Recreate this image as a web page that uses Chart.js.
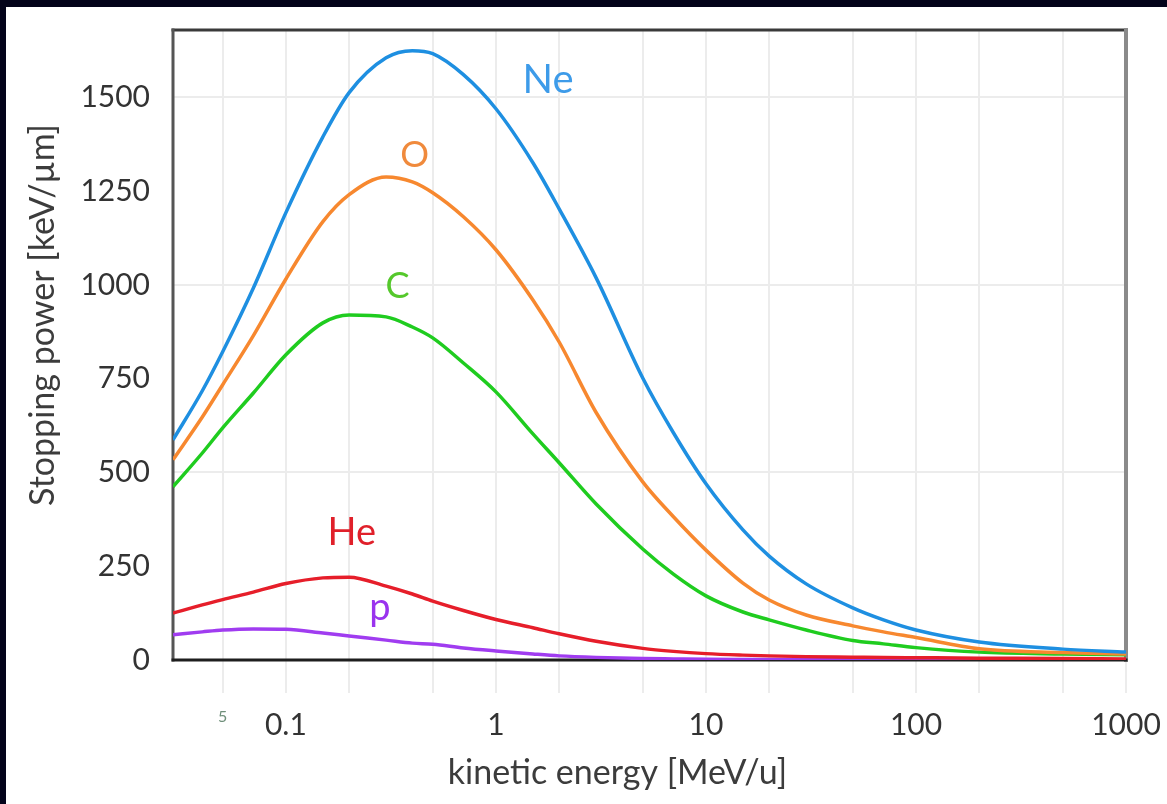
<!DOCTYPE html>
<html>
<head>
<meta charset="utf-8">
<script src="https://cdn.jsdelivr.net/npm/chart.js@4.4.0/dist/chart.umd.min.js"></script>
<style>
  html, body { margin: 0; padding: 0; background: #03031a; }
  #wrap { position: absolute; left: 6px; top: 7px; width: 1161px; height: 797px; background: #fff; }
  canvas { display: block; }
</style>
</head>
<body>
<div id="wrap"><canvas id="chart" width="1161" height="797"></canvas></div>
<script>
"use strict";

// ---- data (kinetic energy in MeV/u, stopping power in keV/µm) ----
const energy = [0.029, 0.04, 0.05, 0.07, 0.1, 0.15, 0.2, 0.3, 0.4, 0.5, 0.7, 1, 1.5, 2, 3, 5, 7, 10, 15, 20, 30, 50, 70, 100, 200, 500, 1000];
const neon   = [587, 718, 822, 992, 1193, 1395, 1513, 1606, 1625, 1617, 1561, 1470, 1326, 1203, 1019, 752, 606, 470, 347, 277, 203, 139, 107, 80, 48, 29, 21];
const oxygen = [534, 648, 734, 865, 1016, 1169, 1241, 1288, 1275, 1246, 1182, 1094, 960, 848, 660, 475, 382, 293, 205, 160, 120, 91, 75, 60, 30, 20, 16];
const carbon = [462, 552, 619, 712, 814, 899, 920, 915, 888, 859, 792, 715, 603, 526, 416, 296, 229, 171, 128, 107, 80, 52, 43, 33, 21, 16, 14];
const helium = [125, 147, 161, 181, 204, 219, 221, 197, 176, 157, 132, 108, 86, 70, 50, 31, 23, 17, 13, 11, 9, 7.5, 6.5, 6, 5, 4, 3];
const proton = [67, 75, 80, 83, 82, 72, 64, 53, 45, 42, 32, 24, 16, 11, 7, 4, 3, 2, 1.5, 1.2, 1, 0.8, 0.7, 0.6, 0.5, 0.4, 0.3];

const seriesNames = ["Ne", "O", "C", "He", "p"];
const xGridValues = [0.05, 0.1, 0.2, 0.5, 1, 2, 5, 10, 20, 50, 100, 200, 500, 1000];
const xTickLabels = { 0.05: "5", 0.1: "0.1", 1: "1", 10: "10", 100: "100", 1000: "1000" };
const yTickValues = [0, 250, 500, 750, 1000, 1250, 1500];
const xTitle = "kinetic energy [MeV/u]";
const yTitle = "Stopping power [keV/µm]";

// where each curve's name sits, in data units (energy, power at text baseline)
const nameAnchors = [[1.77, 1513], [0.41, 1315], [0.34, 966], [0.206, 307], [0.28, 107]];

const lineColors = ["#1e8fe1", "#f7882f", "#1fcc1f", "#e61e2a", "#a03cf0"];
const nameColors = ["#3d9be9", "#f08a3c", "#55c82c", "#e0202a", "#9a33ee"];
const nameSizes  = [40, 36, 36, 38, 38];

Chart.defaults.font.family = "Lato, 'Open Sans', sans-serif";
Chart.defaults.color = "#333";

const series = [neon, oxygen, carbon, helium, proton];

// frame round the plot area, under the curves
const framePlugin = {
  id: "frame",
  beforeDatasetsDraw(chart) {
    const { ctx, chartArea: a } = chart;
    ctx.save();
    ctx.lineCap = "square";
    ctx.strokeStyle = "#3a3a3a"; ctx.lineWidth = 3;
    ctx.beginPath(); ctx.moveTo(a.left, a.top); ctx.lineTo(a.right, a.top); ctx.stroke();
    ctx.strokeStyle = "#555"; ctx.lineWidth = 3;
    ctx.beginPath(); ctx.moveTo(a.left, a.top); ctx.lineTo(a.left, a.bottom); ctx.stroke();
    ctx.strokeStyle = "#8a8a8a"; ctx.lineWidth = 4;
    ctx.beginPath(); ctx.moveTo(a.right, a.top); ctx.lineTo(a.right, a.bottom); ctx.stroke();
    ctx.strokeStyle = "#1e1e1e"; ctx.lineWidth = 3;
    ctx.beginPath(); ctx.moveTo(a.left, a.bottom); ctx.lineTo(a.right, a.bottom); ctx.stroke();
    ctx.restore();
  },
};

// curve names next to each curve, plus the two axis titles (set a bit off centre, as in the source)
const textPlugin = {
  id: "texts",
  afterDatasetsDraw(chart) {
    const { ctx, chartArea: a, scales: { x, y } } = chart;
    ctx.save();
    ctx.textAlign = "center";
    ctx.textBaseline = "alphabetic";
    seriesNames.forEach((n, i) => {
      ctx.fillStyle = nameColors[i];
      ctx.font = `${nameSizes[i]}px Lato, sans-serif`;
      ctx.fillText(n, x.getPixelForValue(nameAnchors[i][0]), y.getPixelForValue(nameAnchors[i][1]));
    });

    ctx.fillStyle = "#3c3c3c";
    ctx.textBaseline = "middle";
    ctx.font = "34px Lato, sans-serif";
    ctx.fillText(xTitle, (a.left + a.right) / 2 - 32, 766);

    ctx.translate(37, (a.top + a.bottom) / 2 - 30);
    ctx.rotate(-Math.PI / 2);
    ctx.fillText(yTitle, 0, 0);
    ctx.restore();
  },
};

new Chart(document.getElementById("chart"), {
  type: "line",
  data: {
    datasets: seriesNames.map((n, i) => ({
      label: n,
      data: energy.map((e, k) => ({ x: e, y: series[i][k] })),
      borderColor: lineColors[i],
      borderWidth: 3.5,
      pointRadius: 0,
      cubicInterpolationMode: "monotone",
      fill: false,
    })),
  },
  options: {
    responsive: false,
    animation: false,
    devicePixelRatio: 1,
    layout: { padding: { top: 23, right: 41, left: 0, bottom: 0 } },
    plugins: { legend: { display: false }, tooltip: { enabled: false } },
    scales: {
      x: {
        type: "logarithmic",
        min: 0.029,
        max: 1000,
        afterBuildTicks: (s) => { s.ticks = xGridValues.map((v) => ({ value: v })); },
        afterFit: (s) => { s.height = 144; s.paddingLeft = 0; s.paddingRight = 0; },
        border: { display: false },
        grid: { color: "#ececec", lineWidth: 2, tickLength: 33, tickColor: "#ececec" },
        ticks: {
          autoSkip: false, maxRotation: 0, padding: 14,
          callback: (v) => xTickLabels[v] || "",
          font: (c) => ({ size: c.tick && c.tick.value === 0.05 ? 16 : 30 }),
          color: (c) => (c.tick && c.tick.value === 0.05 ? "#6f8f7a" : "#333"),
        },
        title: { display: false },
      },
      y: {
        min: 0,
        max: 1680,
        afterBuildTicks: (s) => { s.ticks = yTickValues.map((v) => ({ value: v })); },
        afterFit: (s) => { s.width = 167; s.paddingTop = 0; s.paddingBottom = 0; },
        border: { display: false },
        grid: { drawTicks: false, lineWidth: 2, color: (c) => (c.tick && c.tick.value % 500 === 0 ? "#ececec" : "rgba(0,0,0,0)") },
        ticks: { padding: 23, font: { size: 30 }, color: "#333", callback: (v) => String(v) },
        title: { display: false },
      },
    },
  },
  plugins: [framePlugin, textPlugin],
});
</script>
</body>
</html>
